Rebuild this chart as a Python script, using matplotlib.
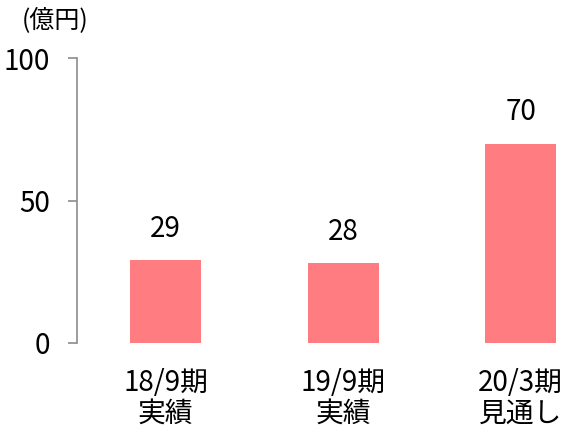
import matplotlib
matplotlib.use("Agg")
import matplotlib.pyplot as plt

# 営業利益の推移 (億円)
periods = ["18/9期\n実績", "19/9期\n実績", "20/3期\n見通し"]
values = [29, 28, 70]
yticks = [0, 50, 100]

plt.rcParams['font.family'] = ['Noto Sans CJK JP', 'DejaVu Sans']

fig = plt.figure(figsize=(5.87, 4.34), dpi=100)
W, H = 587, 434
# axes box in pixel terms: spine at x=77, y from 58 (100) to 343 (0)
ax = fig.add_axes([77 / W, (H - 343) / H, (574 - 77) / W, (343 - 58) / H])

x = list(range(len(values)))
bars = ax.bar(x, values, width=0.4, color='#FF7C80')

for xi, v in zip(x, values):
    ax.annotate(str(v), (xi, v), xytext=(0, 12), textcoords='offset points',
                ha='center', va='bottom', fontsize=20)

ax.set_xlim(-0.5, 2.3)
ax.set_ylim(0, 100)
ax.set_yticks(yticks)
ax.set_yticklabels([str(t) for t in yticks], fontsize=20)
ax.set_xticks(x)
ax.set_xticklabels(periods, fontsize=20, linespacing=1.05)

for s in ['top', 'right', 'bottom']:
    ax.spines[s].set_visible(False)
ax.spines['left'].set_color('#8c8c8c')
ax.spines['left'].set_linewidth(1.2)
ax.tick_params(axis='y', length=6.5, width=1.2, color='#8c8c8c', pad=13)
ax.tick_params(axis='x', length=0, pad=18)

fig.text(22 / W, 1 - 21 / H, "(億円)", fontsize=18, ha='left', va='center')

fig.savefig("out.png", dpi=100)
